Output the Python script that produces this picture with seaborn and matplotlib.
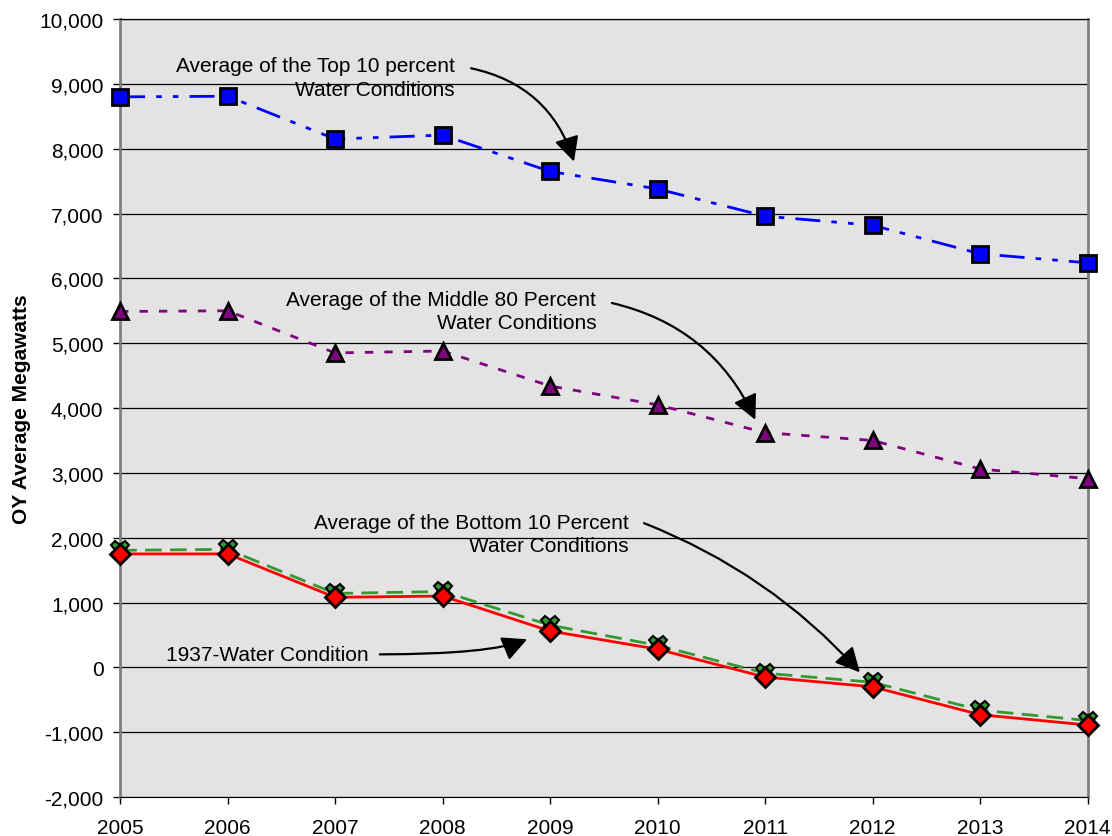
import numpy as np
import pandas as pd
import seaborn as sns
import matplotlib.pyplot as plt
from matplotlib.ticker import FuncFormatter

# data
years = [2005, 2006, 2007, 2008, 2009, 2010, 2011, 2012, 2013, 2014]
top10 = [8800, 8810, 8150, 8210, 7650, 7380, 6960, 6820, 6380, 6240]
middle80 = [5490, 5500, 4850, 4880, 4340, 4050, 3620, 3500, 3060, 2910]
bottom10 = [1805, 1820, 1140, 1170, 650, 340, -90, -230, -660, -820]
water1937 = [1750, 1750, 1080, 1100, 560, 280, -150, -300, -730, -890]

sns.set_style("white")
plt.rcParams['font.family'] = ['Liberation Sans', 'DejaVu Sans']
plt.rcParams['text.color'] = 'black'
plt.rcParams['axes.labelcolor'] = 'black'
plt.rcParams['xtick.color'] = 'black'
plt.rcParams['ytick.color'] = 'black'

fig = plt.figure(figsize=(11.12, 8.37), dpi=100)
ax = fig.add_axes([0.108, 0.0466, 0.870, 0.9294])
ax.set_facecolor('#e3e3e3')

df = pd.DataFrame({'year': years, 'top': top10, 'mid': middle80,
                   'bot': bottom10, 'w37': water1937})

#Top 10 percent - blue dash dot dot
sns.lineplot(data=df, x='year', y='top', ax=ax, color='#0000ff', lw=2,
             ls=(0, (9, 4, 2, 4, 2, 4)), marker='s', markersize=11,
             markerfacecolor='#0000ff', markeredgecolor='black',
             markeredgewidth=2, clip_on=False, zorder=5)
#Middle 80 - purple dotted
sns.lineplot(data=df, x='year', y='mid', ax=ax, color='#800080', lw=2,
             ls=(0, (3, 4)), marker='^', markersize=11,
             markerfacecolor='#800080', markeredgecolor='black',
             markeredgewidth=2, clip_on=False, zorder=5)
#Bottom 10 - green dashed
sns.lineplot(data=df, x='year', y='bot', ax=ax, color='#339933', lw=2,
             ls=(0, (6, 3)), marker='X', markersize=13,
             markerfacecolor='#339933', markeredgecolor='black',
             markeredgewidth=1.5, clip_on=False, zorder=5)
#1937 water - red solid
sns.lineplot(data=df, x='year', y='w37', ax=ax, color='#ff0000', lw=2,
             marker='D', markersize=10, markerfacecolor='#ff0000',
             markeredgecolor='black', markeredgewidth=2, clip_on=False, zorder=6)

ax.set_xlim(2005, 2014)
ax.set_ylim(-2000, 10000)
ax.set_xticks(years)
ax.set_yticks(range(-2000, 10001, 1000))
ax.yaxis.set_major_formatter(FuncFormatter(lambda v, p: f'{int(v):,}'))
ax.yaxis.grid(True, color='black', lw=0.9)
ax.set_axisbelow(True)
ax.tick_params(axis='both', direction='out', length=5, width=1, color='black',
               labelsize=15, left=True, bottom=True)
ax.tick_params(axis='x', pad=10)
ax.tick_params(axis='y', pad=7)
ax.set_xlabel('')
ax.set_ylabel('OY Average Megawatts', fontsize=15, fontweight='bold', labelpad=6)

for s in ['left', 'right']:
    ax.spines[s].set_color('#808080')
    ax.spines[s].set_linewidth(2)
ax.spines['bottom'].set_color('black')
ax.spines['top'].set_color('black')
ax.spines['top'].set_linewidth(0.9)

fs = 15
arrow = dict(arrowstyle='-|>,head_length=0.5,head_width=0.25', color='black',
             lw=1.6, mutation_scale=30)

ax.text(2008.11, 9100, 'Average of the Top 10 percent\nWater Conditions',
        ha='right', va='center', multialignment='right', fontsize=fs, linespacing=1.3)
ax.annotate('', xy=(2009.23, 7760), xytext=(2008.24, 9250),
            arrowprops=dict(arrow, connectionstyle='arc3,rad=-0.3'))

ax.text(2009.43, 5500, 'Average of the Middle 80 Percent\nWater Conditions',
        ha='right', va='center', multialignment='right', fontsize=fs, linespacing=1.3)
ax.annotate('', xy=(2010.92, 3780), xytext=(2009.55, 5630),
            arrowprops=dict(arrow, connectionstyle='arc3,rad=-0.25'))

ax.text(2009.73, 2060, 'Average of the Bottom 10 Percent\nWater Conditions',
        ha='right', va='center', multialignment='right', fontsize=fs, linespacing=1.3)
ax.annotate('', xy=(2011.9, -110), xytext=(2009.85, 2240),
            arrowprops=dict(arrow, connectionstyle='arc3,rad=-0.12'))

ax.text(2007.31, 200, '1937-Water Condition', ha='right', va='center', fontsize=fs)
ax.annotate('', xy=(2008.81, 450), xytext=(2007.39, 200),
            arrowprops=dict(arrow, connectionstyle='angle3,angleA=0,angleB=25'))

plt.savefig('out.png', dpi=100)
